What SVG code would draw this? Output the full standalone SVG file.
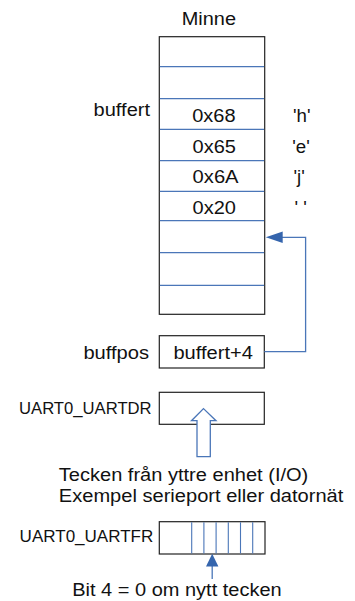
<svg xmlns="http://www.w3.org/2000/svg" width="355" height="601" viewBox="0 0 355 601">
  <style>
    text { font-family: "Liberation Sans", Arial, sans-serif; fill: #111; }
    .t { font-size: 18.7px; }
    .s { font-size: 15.8px; }
    .box { fill: #fff; stroke: #222; stroke-width: 1.2; }
    .div { stroke: #4a76b8; stroke-width: 1.3; fill: none; }
    .bit { stroke: #4a76b8; stroke-width: 1.1; fill: none; }
    .link { stroke: #4a76b8; stroke-width: 1.3; fill: none; }
  </style>
  <defs>
    <marker id="head" viewBox="0 0 10 10" refX="10" refY="5" markerWidth="10" markerHeight="10" markerUnits="userSpaceOnUse" orient="auto">
      <path d="M0,0 L10,5 L0,10 Z" fill="#3565ad"/>
    </marker>
  </defs>

  <!-- memory column -->
  <g id="minne">
    <text class="t" x="181.7" y="25" textLength="54.3" lengthAdjust="spacingAndGlyphs">Minne</text>
    <rect class="box" x="159.3" y="36.7" width="105.4" height="277.6"/>
    <line class="div" x1="159.9" y1="66.7" x2="264.1" y2="66.7"/>
    <line class="div" x1="159.9" y1="98.7" x2="264.1" y2="98.7"/>
    <line class="div" x1="159.9" y1="129.3" x2="264.1" y2="129.3"/>
    <line class="div" x1="159.9" y1="160.7" x2="264.1" y2="160.7"/>
    <line class="div" x1="159.9" y1="191.3" x2="264.1" y2="191.3"/>
    <line class="div" x1="159.9" y1="220.7" x2="264.1" y2="220.7"/>
    <line class="div" x1="159.9" y1="252.7" x2="264.1" y2="252.7"/>
    <line class="div" x1="159.9" y1="285.3" x2="264.1" y2="285.3"/>
    <text class="t" x="192.2" y="122.3" textLength="43.4" lengthAdjust="spacingAndGlyphs">0x68</text>
    <text class="t" x="192.6" y="153.3" textLength="43.4" lengthAdjust="spacingAndGlyphs">0x65</text>
    <text class="t" x="192.6" y="183" textLength="46" lengthAdjust="spacingAndGlyphs">0x6A</text>
    <text class="t" x="192.6" y="214" textLength="43.4" lengthAdjust="spacingAndGlyphs">0x20</text>
  </g>

  <g id="buffert">
    <text class="t" x="93.6" y="115.5" textLength="56.4" lengthAdjust="spacingAndGlyphs">buffert</text>
  </g>

  <!-- characters stored in the buffer -->
  <g id="tecken">
    <text class="t" x="293" y="122.3">'h'</text>
    <text class="t" x="292.3" y="153.3">'e'</text>
    <text class="t" x="293.5" y="183">'j'</text>
    <text class="t" x="294.5" y="214" xml:space="preserve">' '</text>
  </g>

  <g id="buffpos">
    <text class="t" x="83.4" y="359.3" textLength="65.6" lengthAdjust="spacingAndGlyphs">buffpos</text>
    <rect class="box" x="159.3" y="335.7" width="105" height="32.3"/>
    <text class="t" x="173.4" y="359.3" textLength="79.5" lengthAdjust="spacingAndGlyphs">buffert+4</text>
  </g>

  <g id="uartdr">
    <text class="s" x="19" y="414" textLength="132.6" lengthAdjust="spacingAndGlyphs">UART0_UARTDR</text>
    <rect class="box" x="159.3" y="392.3" width="105" height="32"/>
  </g>

  <g id="io">
    <text class="t" x="58.8" y="481" textLength="249.5" lengthAdjust="spacingAndGlyphs">Tecken från yttre enhet (I/O)</text>
    <text class="t" x="58.8" y="501.7" textLength="284.5" lengthAdjust="spacingAndGlyphs">Exempel serieport eller datornät</text>
  </g>

  <g id="uartfr">
    <text class="s" x="19.6" y="542.3" textLength="133.7" lengthAdjust="spacingAndGlyphs">UART0_UARTFR</text>
    <rect class="box" x="159.3" y="521.7" width="105.7" height="32.3"/>
    <line class="bit" x1="191.7" y1="522.3" x2="191.7" y2="553.4"/>
    <line class="bit" x1="203.9" y1="522.3" x2="203.9" y2="553.4"/>
    <line class="bit" x1="216.1" y1="522.3" x2="216.1" y2="553.4"/>
    <line class="bit" x1="228.3" y1="522.3" x2="228.3" y2="553.4"/>
    <line class="bit" x1="240.5" y1="522.3" x2="240.5" y2="553.4"/>
    <line class="bit" x1="252.7" y1="522.3" x2="252.7" y2="553.4"/>
  </g>

  <g id="bit4">
    <text class="t" x="72.2" y="595.7" textLength="209.5" lengthAdjust="spacingAndGlyphs">Bit 4 = 0 om nytt tecken</text>
  </g>

  <!-- connectors -->
  <g id="connectors">
    <polyline class="link" points="264.3,351.7 305.6,351.7 305.6,237.3 282,237.3"/>
    <path d="M265.8,237.3 L282.7,231.5 L282.7,243.1 Z" fill="#3565ad"/>
    <path d="M203.5,408.6 L216,420.7 L210.3,420.7 L210.3,456.7 L197,456.7 L197,420.7 L191.5,420.7 Z" fill="#fff" stroke="#4a76b8" stroke-width="1.3" stroke-linejoin="miter"/>
    <line class="link" x1="212.2" y1="566" x2="212.2" y2="579"/>
    <path d="M212.2,553.8 L218.4,566.6 L206,566.6 Z" fill="#3565ad"/>
  </g>
</svg>
